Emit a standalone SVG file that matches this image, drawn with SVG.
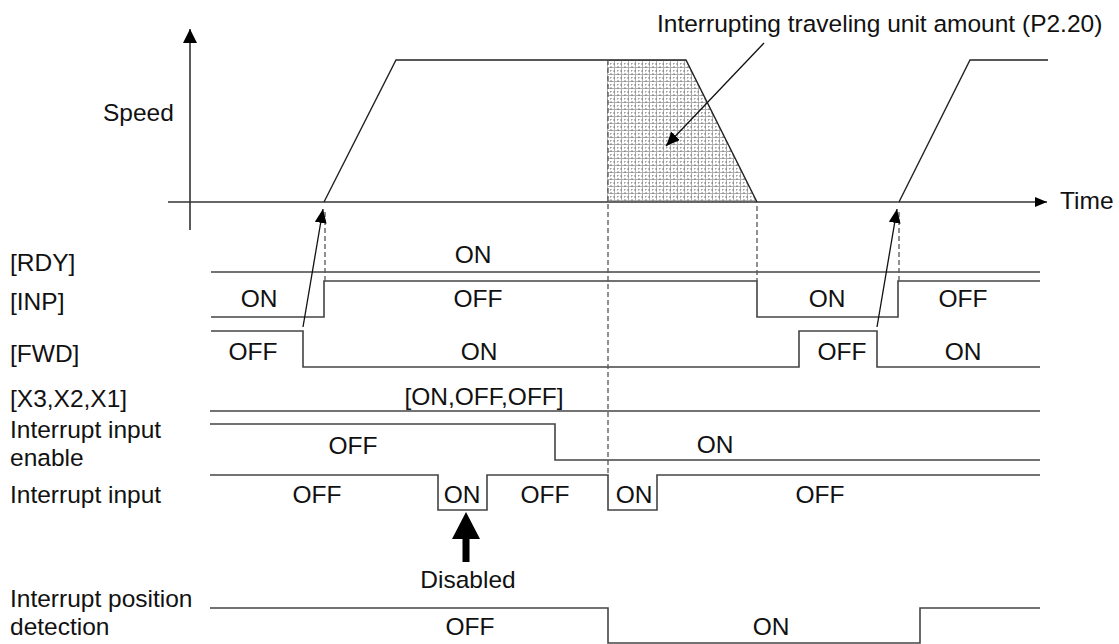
<svg xmlns="http://www.w3.org/2000/svg" width="1119" height="644" viewBox="0 0 1119 644">
<style>
text{font-family:"Liberation Sans",Arial,sans-serif;font-size:24.5px;fill:#111}
.c{text-anchor:middle}
.sig{fill:none;stroke:#444;stroke-width:1.6}
.spd{fill:none;stroke:#222;stroke-width:1.4}
.ax{fill:none;stroke:#333;stroke-width:1.6}
.dash{fill:none;stroke:#555;stroke-width:1.3;stroke-dasharray:5,3}
.arr{fill:none;stroke:#111;stroke-width:1.3;marker-end:url(#ah)}
</style>
<defs>
<marker id="ah" viewBox="0 0 14 12" refX="14" refY="6" markerWidth="14" markerHeight="12" markerUnits="userSpaceOnUse" orient="auto"><path d="M0,0 L14,6 L0,12 z" fill="#000"/></marker>
<marker id="ahY" viewBox="0 0 14 14" refX="14" refY="7" markerWidth="14" markerHeight="14" markerUnits="userSpaceOnUse" orient="auto"><path d="M0,0 L14,7 L0,14 z" fill="#000"/></marker>
<marker id="ahT" viewBox="0 0 12 10" refX="12" refY="5" markerWidth="12" markerHeight="10" markerUnits="userSpaceOnUse" orient="auto"><path d="M0,0 L12,5 L0,10 z" fill="#000"/></marker>
<pattern id="hatch" x="607" y="60" width="7" height="7" patternUnits="userSpaceOnUse">
<path d="M0.5,0 V7 M0,0.5 H7" stroke="#b0b0b0" stroke-width="1"/>
<path d="M4,0 V7 M0,4 H7" stroke="#555" stroke-width="0.7" stroke-dasharray="1,2"/>
</pattern>
</defs>
<g id="speed-graph">
<polygon points="607,60 686,60 757,202 607,202" fill="url(#hatch)"/>
<line class="ax" x1="190" y1="230" x2="190" y2="29" marker-end="url(#ahY)"/>
<line class="ax" x1="168" y1="202" x2="1047" y2="202" marker-end="url(#ahT)"/>
<polyline class="spd" points="324,202 396,60 686,60 757,202"/>
<polyline class="spd" points="899,202 970,60 1048,60"/>
<text x="103" y="121">Speed</text>
<text x="1060" y="209">Time</text>
<text x="657" y="32">Interrupting traveling unit amount (P2.20)</text>
</g>
<g id="rdy">
<text x="10" y="271">[RDY]</text>
<line class="sig" x1="211" y1="272" x2="1040" y2="272"/>
<text class="c" x="473" y="263">ON</text>
</g>
<g id="inp">
<text x="10" y="310">[INP]</text>
<polyline class="sig" points="211,317 324,317 324,281 757,281 757,317 898,317 898,281 1040,281"/>
<text class="c" x="259" y="307">ON</text>
<text class="c" x="478" y="307">OFF</text>
<text class="c" x="827" y="307">ON</text>
<text class="c" x="963" y="307">OFF</text>
</g>
<g id="fwd">
<text x="10" y="362">[FWD]</text>
<polyline class="sig" points="211,331 303,331 303,367 799,367 799,331 877,331 877,367 1040,367"/>
<text class="c" x="253" y="360">OFF</text>
<text class="c" x="479" y="360">ON</text>
<text class="c" x="842" y="360">OFF</text>
<text class="c" x="963" y="360">ON</text>
</g>
<g id="x-inputs">
<text x="10" y="407">[X3,X2,X1]</text>
<line class="sig" x1="210" y1="411" x2="1040" y2="411"/>
<text class="c" x="484" y="405">[ON,OFF,OFF]</text>
</g>
<g id="interrupt-enable">
<text x="10" y="438">Interrupt input</text>
<text x="10" y="466">enable</text>
<polyline class="sig" points="210,424 555,424 555,460 1040,460"/>
<text class="c" x="353" y="454">OFF</text>
<text class="c" x="715" y="453">ON</text>
</g>
<g id="interrupt-input">
<text x="10" y="503">Interrupt input</text>
<polyline class="sig" points="210,475 438,475 438,510 487,510 487,475 608,475 608,510 657,510 657,475 1040,475"/>
<text class="c" x="317" y="503">OFF</text>
<text class="c" x="462" y="503">ON</text>
<text class="c" x="545" y="503">OFF</text>
<text class="c" x="634" y="503">ON</text>
<text class="c" x="820" y="503">OFF</text>
</g>
<g id="disabled">
<polygon points="466,512 480,539 469.5,539 469.5,562 462.5,562 462.5,539 452,539" fill="#000"/>
<text class="c" x="468" y="588">Disabled</text>
</g>
<g id="interrupt-position">
<text x="10" y="607">Interrupt position</text>
<text x="10" y="635">detection</text>
<polyline class="sig" points="210,608 608,608 608,643 920,643 920,608 1040,608"/>
<text class="c" x="470" y="635">OFF</text>
<text class="c" x="771" y="635">ON</text>
</g>
<g id="connectors">
<line class="dash" x1="608" y1="60" x2="608" y2="475"/>
<line class="dash" x1="757" y1="206" x2="757" y2="281"/>
<line class="dash" x1="325" y1="212" x2="325" y2="281"/>
<line class="dash" x1="899" y1="212" x2="899" y2="281"/>
<line class="arr" x1="303" y1="327" x2="323" y2="209"/>
<line class="arr" x1="877" y1="327" x2="897" y2="209"/>
<line class="arr" x1="764" y1="43" x2="666" y2="146"/>
</g>
</svg>
